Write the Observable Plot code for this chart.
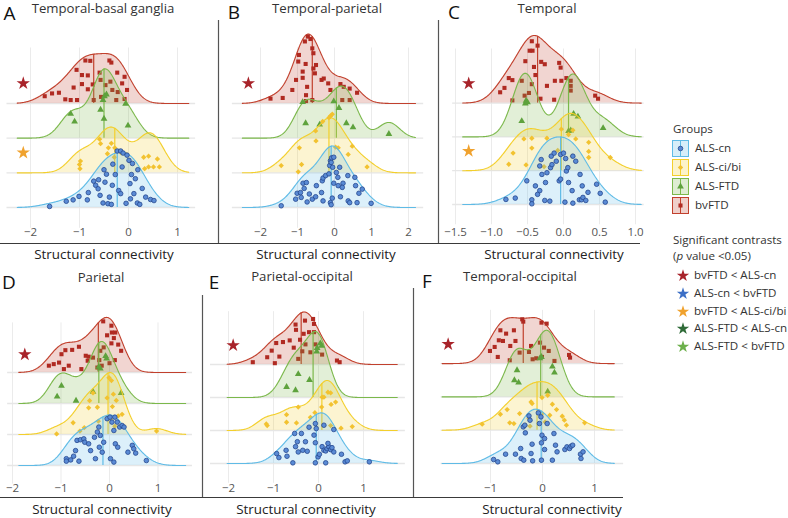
<!DOCTYPE html>
<html><head><meta charset="utf-8">
<script src="https://cdn.jsdelivr.net/npm/d3@7"></script>
<script src="https://cdn.jsdelivr.net/npm/@observablehq/plot@0.6"></script>
<style>
body{margin:0;background:#fff;}
#fig{position:relative;width:788px;height:518px;overflow:hidden;font-family:"Open Sans",sans-serif;color:#222;background:#fff;}
.t{position:absolute;transform:translate(-50%,-50%);white-space:nowrap;line-height:1;}
.l{position:absolute;transform:translateY(-50%);white-space:nowrap;line-height:1;}
</style></head><body><div id="fig"></div>
<script>
// ---------- DATA ----------
const groups = ["ALS-cn", "ALS-ci/bi", "ALS-FTD", "bvFTD"];
const panelIds = ["A", "B", "C", "D", "E", "F"];
const panelTitles = ["Temporal-basal ganglia", "Temporal-parietal", "Temporal", "Parietal", "Parietal-occipital", "Temporal-occipital"];
const xLabel = "Structural connectivity";
const ticksA = [-2, -1, 0, 1];
const ticksB = [-2, -1, 0, 1, 2];
const ticksC = [-1.5, -1.0, -0.5, 0.0, 0.5, 1.0];
const ticksD = [-2, -1, 0, 1];
const ticksE = [-2, -1, 0, 1];
const ticksF = [-1, 0, 1];
// density evaluation range per panel (x units)
const rangeA = [-2.27, 1.23], rangeB = [-2.49, 2.19], rangeC = [-1.40, 1.08];
const rangeD = [-1.87, 1.57], rangeE = [-2.03, 1.75], rangeF = [-1.93, 1.38];
// point data: [value, jitter height above baseline]
const A_cn = [[-1.61,0.03],[-1.27,0.18],[-1.13,0.22],[-1.01,0.32],[-0.84,0.22],[-0.82,0.43],[-0.71,0.76],[-0.67,0.64],[-0.61,0.80],[-0.62,0.54],[-0.50,1.09],[-0.45,0.96],[-0.48,0.73],[-0.52,0.13],[-0.42,0.11],[-0.35,0.09],[-0.39,0.30],[-0.33,0.64],[-0.32,1.25],[-0.23,1.63],[-0.16,1.63],[-0.11,1.57],[-0.20,0.49],[-0.16,0.40],[-0.13,1.17],[-0.03,1.51],[0.01,1.36],[0.03,0.69],[0.08,1.27],[0.04,0.25],[0.14,0.83],[0.11,0.40],[0.19,1.09],[0.18,0.13],[0.23,0.09],[0.35,0.30],[0.45,0.23],[0.52,0.20],[-0.27,0.95],[0.06,0.95],[0.28,0.55],[-0.05,0.12],[-0.58,0.35]];
const A_ci = [[-0.98,0.34],[-1.00,0.24],[-0.99,0.12],[-0.59,0.97],[-0.57,0.84],[-0.43,0.55],[-0.41,0.72],[-0.29,0.45],[-0.28,0.72],[-0.15,0.58],[-0.04,0.53],[0.31,0.45],[0.33,0.12],[0.41,0.48],[0.41,0.17],[0.51,0.17],[0.59,0.40],[0.63,0.17],[-0.35,0.85]];
const A_ftd = [[-1.18,0.70],[-1.10,0.48],[-0.57,0.82],[-0.52,1.10],[-0.50,0.56],[-0.49,1.21],[-0.45,1.26],[-0.06,0.99],[-0.01,0.36]];
const A_bv = [[-1.71,0.21],[-1.56,0.29],[-1.42,0.31],[-1.29,0.12],[-1.18,0.10],[-1.06,0.97],[-1.05,0.10],[-0.95,0.82],[-0.95,0.56],[-0.88,1.24],[-0.83,0.81],[-0.83,0.41],[-0.78,1.23],[-0.73,0.55],[-0.71,0.10],[-0.59,0.89],[-0.57,0.68],[-0.56,0.19],[-0.47,0.53],[-0.39,1.24],[-0.35,1.18],[-0.37,0.63],[-0.33,0.39],[-0.23,0.89],[-0.22,0.33],[-0.13,0.58],[-0.08,0.77],[-0.08,0.13],[-0.03,0.39],[-0.25,0.10],[-1.12,0.46]];
const B_cn = [[-1.44,0.05],[-1.05,0.24],[-1.01,0.41],[-0.92,0.43],[-0.85,0.70],[-0.76,0.72],[-0.90,0.29],[-0.74,0.16],[-0.68,0.39],[-0.60,0.24],[-0.51,0.31],[-0.49,0.63],[-0.35,0.43],[-0.31,0.19],[-0.33,0.77],[-0.31,0.85],[-0.24,0.92],[-0.15,0.97],[-0.13,1.21],[-0.11,1.35],[-0.08,1.43],[-0.02,1.45],[-0.09,1.30],[-0.05,1.16],[-0.06,0.27],[-0.11,0.14],[-0.09,0.08],[-0.02,0.70],[0.05,1.01],[0.09,0.87],[0.14,1.16],[0.10,0.63],[0.16,0.31],[0.23,0.70],[0.21,0.58],[0.36,0.92],[0.37,0.19],[0.41,0.14],[0.55,0.87],[0.57,0.63],[0.66,0.41],[0.75,0.53],[0.61,0.14],[0.99,0.12],[-0.82,0.55]];
const B_ci = [[-0.11,1.64],[-0.15,1.59],[-0.06,1.69],[-0.32,1.48],[-0.51,1.21],[-0.50,0.92],[-0.95,0.72],[-1.44,0.21],[-0.89,0.24],[-0.98,0.03],[0.03,0.74],[0.10,0.72],[0.48,0.77],[0.37,0.53],[0.88,0.17]];
const B_ftd = [[-0.86,1.04],[-0.78,0.43],[-0.40,0.39],[-0.02,1.06],[0.12,0.87],[0.32,0.43],[0.50,0.31],[1.47,0.12]];
const B_bv = [[-1.73,0.14],[-1.40,0.16],[-1.14,0.39],[-1.04,0.68],[-0.96,1.40],[-0.98,1.21],[-0.86,0.92],[-0.86,0.74],[-0.80,1.79],[-0.78,1.14],[-0.72,1.93],[-0.74,0.48],[-0.77,0.24],[-0.77,0.07],[-0.65,1.86],[-0.60,1.59],[-0.57,1.45],[-0.57,1.01],[-0.53,0.87],[-0.50,1.11],[-0.60,0.10],[-0.35,0.68],[-0.29,0.72],[-0.17,0.58],[-0.11,0.39],[0.16,0.56],[0.25,0.48],[0.41,0.43],[0.61,0.31],[0.21,0.10],[0.41,0.10]];
const C_cn = [[-0.80,0.15],[-0.67,0.19],[-0.51,0.70],[-0.44,0.14],[-0.44,0.02],[-0.39,0.55],[-0.33,0.41],[-0.33,1.14],[-0.31,1.33],[-0.30,0.89],[-0.26,0.12],[-0.19,0.10],[-0.23,0.94],[-0.18,1.09],[-0.16,1.18],[-0.17,1.43],[-0.13,1.52],[-0.10,1.28],[-0.06,0.70],[-0.04,0.75],[-0.04,1.48],[0.00,1.52],[0.03,1.36],[0.04,0.99],[0.06,1.09],[0.07,0.65],[0.02,0.07],[0.13,0.04],[0.12,0.41],[0.13,1.43],[0.17,1.28],[0.22,0.14],[0.25,0.14],[0.27,0.21],[0.31,0.12],[0.26,0.55],[0.23,0.89],[0.34,0.36],[0.46,0.60],[0.51,0.33],[0.58,0.07],[-0.25,0.65],[-0.36,0.30]];
const C_ci = [[-0.55,0.94],[-0.44,0.96],[-0.44,0.67],[-0.23,0.96],[-0.70,0.52],[-0.76,0.19],[-0.52,0.17],[-0.27,0.12],[-0.03,1.23],[0.13,1.20],[0.07,1.07],[0.17,0.94],[0.12,0.43],[0.06,0.10],[0.35,0.84],[0.35,0.57],[0.35,0.39],[0.65,0.39],[-0.08,0.60]];
const C_ftd = [[-0.52,1.07],[-0.53,0.99],[-0.50,1.02],[-0.58,0.47],[0.07,0.17],[0.10,0.19],[0.14,0.68],[0.20,0.60],[0.55,0.26]];
const C_bv = [[-0.44,1.83],[-0.47,1.55],[-0.43,1.55],[-0.53,1.24],[-0.41,1.07],[-0.31,1.22],[-0.26,1.15],[-0.06,1.19],[-0.04,1.05],[-0.71,0.68],[-0.76,0.74],[-0.58,0.66],[-0.39,0.83],[-0.44,0.56],[-0.23,0.51],[-0.12,0.66],[-0.03,0.66],[0.04,0.74],[0.10,0.66],[0.10,0.51],[-0.82,0.45],[-0.88,0.32],[-0.71,0.08],[-0.54,0.22],[-0.32,0.13],[-0.13,0.10],[0.10,0.37],[0.44,0.22],[0.48,0.13],[-0.36,1.70],[-0.48,0.30]];
const D_cn = [[-0.89,0.22],[-0.89,0.14],[-0.80,0.18],[-0.70,0.48],[-0.63,0.14],[-0.67,0.81],[-0.60,0.83],[-0.53,0.86],[-0.51,0.75],[-0.43,0.70],[-0.39,0.48],[-0.29,0.22],[-0.31,0.91],[-0.25,1.08],[-0.22,1.24],[-0.19,0.97],[-0.21,0.59],[-0.15,0.43],[-0.05,1.51],[0.01,1.56],[0.05,1.40],[0.11,1.56],[0.16,1.40],[0.09,1.13],[0.21,1.24],[0.26,1.29],[0.30,1.24],[0.12,0.70],[0.17,0.59],[0.02,0.22],[0.09,0.11],[0.47,0.65],[0.50,0.54],[0.54,0.40],[0.38,0.43],[0.76,0.16],[-0.12,0.75],[-0.74,0.30]];
const D_ci = [[-1.09,0.02],[-0.75,0.38],[-0.61,0.11],[-0.52,0.22],[-0.43,0.86],[-0.41,1.09],[-0.34,1.34],[-0.25,0.88],[-0.23,0.43],[-0.05,1.18],[-0.01,1.83],[0.04,1.74],[0.14,1.10],[0.11,0.27],[0.26,0.65],[0.97,0.11],[0.02,0.50],[0.08,1.30],[0.06,0.90],[0.18,0.60]];
const D_ftd = [[-0.99,0.57],[-1.08,0.22],[-0.69,0.09],[-0.34,0.38],[-0.08,1.53],[-0.06,1.45],[-0.19,1.13],[-0.22,1.18],[0.24,0.34]];
const D_bv = [[-0.13,1.65],[0.04,1.51],[0.05,1.29],[0.12,1.29],[0.09,1.11],[0.04,0.94],[0.24,0.70],[0.11,0.40],[-0.19,0.70],[-0.21,0.40],[-0.34,0.48],[-0.49,0.54],[-0.43,0.51],[-0.45,0.38],[-0.63,0.83],[-0.77,0.73],[-0.91,0.72],[-0.99,0.59],[-1.04,0.32],[-1.15,0.27],[-1.25,0.22],[-0.94,0.11],[-0.84,0.22],[-0.58,0.11],[-0.25,0.16],[-0.16,0.22],[-0.12,0.81],[0.18,0.90],[-0.05,1.20],[0.00,0.30]];
const E_cn = [[-0.93,0.30],[-0.88,0.18],[-0.72,0.40],[-0.70,0.22],[-0.57,0.02],[-0.53,0.91],[-0.47,0.66],[-0.51,0.51],[-0.45,0.35],[-0.35,0.40],[-0.25,0.37],[-0.29,0.66],[-0.38,0.91],[-0.21,1.10],[-0.07,1.21],[-0.05,1.06],[-0.10,0.86],[-0.07,0.63],[-0.01,0.20],[0.02,0.28],[0.08,0.51],[0.12,0.40],[0.16,0.38],[0.19,0.45],[0.23,0.51],[0.27,0.42],[0.30,0.48],[0.34,0.35],[0.21,0.61],[0.16,0.02],[0.51,0.28],[0.34,1.03],[0.12,1.16],[0.59,0.05],[0.64,0.08],[1.13,0.05],[-0.07,0.02]];
const E_ci = [[-1.16,0.20],[-1.14,0.15],[-0.71,0.25],[-0.71,0.48],[-0.49,0.23],[-0.45,0.71],[-0.18,0.40],[-0.08,0.54],[0.07,0.71],[0.08,1.01],[0.12,1.01],[0.21,1.16],[0.27,1.14],[0.28,0.79],[0.38,0.86],[0.27,0.15],[0.50,0.07],[0.75,0.12]];
const E_ftd = [[0.04,1.64],[0.07,1.57],[-0.04,1.39],[-0.03,1.50],[-0.45,0.71],[-0.20,0.53],[-0.71,0.32],[-0.51,0.22]];
const E_bv = [[-0.51,1.21],[-0.50,1.05],[-0.30,1.33],[-0.12,1.38],[-0.10,1.23],[-0.10,0.98],[-0.21,0.98],[-0.33,0.93],[-0.41,0.75],[-0.29,0.61],[-0.07,0.61],[-0.18,0.37],[-0.55,0.51],[-0.64,0.73],[-0.79,0.68],[-0.94,0.65],[-1.04,0.42],[-0.87,0.24],[-1.14,0.22],[-0.97,0.04],[-1.46,0.07],[-0.36,0.40],[-0.45,0.17],[0.08,0.30],[0.41,0.12],[0.47,0.07]];
const F_cn = [[-0.94,0.12],[-0.86,0.05],[-0.71,0.28],[-0.52,0.28],[-0.42,0.45],[-0.41,0.15],[-0.36,0.10],[-0.37,1.10],[-0.34,1.15],[-0.26,1.43],[-0.24,1.30],[-0.33,0.92],[-0.20,0.58],[-0.19,0.08],[-0.08,1.52],[-0.03,1.40],[-0.06,1.20],[-0.01,0.85],[-0.02,0.62],[0.04,0.75],[0.04,0.42],[-0.02,0.10],[0.19,0.10],[0.22,0.90],[0.25,0.55],[0.28,0.35],[0.43,0.42],[0.47,0.50],[0.52,0.45],[0.55,0.52],[0.58,0.55],[0.73,0.28],[0.74,0.15],[0.78,0.35],[0.09,1.20],[-0.22,0.30]];
const F_ci = [[-1.16,0.18],[-0.81,0.48],[-0.68,0.62],[-0.63,0.22],[-0.55,0.20],[-0.44,0.50],[-0.26,0.35],[-0.33,0.15],[-0.24,0.12],[-0.22,0.85],[-0.20,0.80],[-0.01,0.98],[0.19,0.78],[0.38,0.42],[0.42,0.30],[0.46,0.15],[0.81,0.22],[-0.01,0.50],[0.10,1.05],[0.14,0.45],[0.27,0.62],[0.05,0.25]];
const F_ftd = [[-0.49,0.80],[-0.54,0.50],[-0.46,0.43],[-0.05,1.16],[-0.02,1.20],[0.19,0.91],[0.23,0.73],[0.10,0.16]];
const F_bv = [[-0.39,1.33],[-0.37,1.26],[-0.81,1.00],[-0.84,0.70],[-0.76,0.68],[-0.62,0.53],[-0.52,0.68],[-1.01,0.38],[-0.86,0.20],[-0.63,0.10],[-0.44,0.33],[-0.26,0.35],[-0.22,0.53],[-0.19,0.13],[-0.12,0.16],[-0.02,1.23],[0.08,1.20],[-0.05,0.63],[0.03,0.48],[0.12,0.38],[-0.01,0.20],[0.23,0.08],[0.51,0.26],[0.53,0.18],[-0.70,0.90],[-0.55,1.00],[-0.92,0.50]];
// significant contrasts shown per panel: [group row, contrast]
const contrasts = ["bvFTD < ALS-cn", "ALS-cn < bvFTD", "bvFTD < ALS-ci/bi", "ALS-FTD < ALS-cn", "ALS-FTD < bvFTD"];
const starsA = [["bvFTD", "bvFTD < ALS-cn"], ["ALS-ci/bi", "bvFTD < ALS-ci/bi"]];
const starsB = [["bvFTD", "bvFTD < ALS-cn"]];
const starsC = [["bvFTD", "bvFTD < ALS-cn"], ["ALS-ci/bi", "bvFTD < ALS-ci/bi"]];
const starsD = [["bvFTD", "bvFTD < ALS-cn"]];
const starsE = [["bvFTD", "bvFTD < ALS-cn"]];
const starsF = [["bvFTD", "bvFTD < ALS-cn"]];

// ---------- STYLE ----------
const lineColor = {"ALS-cn": "#5fbbe6", "ALS-ci/bi": "#f3cf2c", "ALS-FTD": "#7bb84b", "bvFTD": "#c1402d"};
const ptFill = {"ALS-cn": "#5a8bd5", "ALS-ci/bi": "#f2c230", "ALS-FTD": "#5ea23d", "bvFTD": "#b02a22"};
const ptStroke = {"ALS-cn": "#26478f", "ALS-ci/bi": "none", "ALS-FTD": "none", "bvFTD": "none"};
const ptSymbol = {"ALS-cn": "circle", "ALS-ci/bi": "diamond2", "ALS-FTD": "triangle", "bvFTD": "square"};
const ptR = {"ALS-cn": 2.3, "ALS-ci/bi": 2.4, "ALS-FTD": 2.5, "bvFTD": 2.3};
const starColor = {"bvFTD < ALS-cn": "#a8232a", "ALS-cn < bvFTD": "#3c6fc6", "bvFTD < ALS-ci/bi": "#f0a22e", "ALS-FTD < ALS-cn": "#2f6b38", "ALS-FTD < bvFTD": "#6cb04b"};

// panel geometry (page pixels)
const panels = [
  {id:"A", data:[A_cn,A_ci,A_ftd,A_bv], ticks:ticksA, fmt:d3.format("d"), range:rangeA, grid:[-2.48,1.37], stars:starsA,
   left:0, right:218, top:20, bottom:243, zero:128, kx:49, base:207, u:34.67, tickDy:8, sepR:true},
  {id:"B", data:[B_cn,B_ci,B_ftd,B_bv], ticks:ticksB, fmt:d3.format("d"), range:rangeB, grid:[-2.76,2.41], stars:starsB,
   left:218, right:438, top:20, bottom:243, zero:334, kx:37, base:207, u:34.67, tickDy:8},
  {id:"C", data:[C_cn,C_ci,C_ftd,C_bv], ticks:ticksC, fmt:d3.format(".1f"), range:rangeC, grid:[-1.54,1.12], stars:starsC,
   left:438, right:640, top:20, bottom:243, zero:563, kx:72, base:204, u:33.8, tickDy:8, sepL:true},
  {id:"D", data:[D_cn,D_ci,D_ftd,D_bv], ticks:ticksD, fmt:d3.format("d"), range:rangeD, grid:[-2.1,1.71], stars:starsD,
   left:0, right:202, top:295, bottom:497, zero:109, kx:48.5, base:465, u:31, tickDy:6, sepR:true},
  {id:"E", data:[E_cn,E_ci,E_ftd,E_bv], ticks:ticksE, fmt:d3.format("d"), range:rangeE, grid:[-2.4,1.93], stars:starsE,
   left:202, right:413, top:288, bottom:497, zero:318, kx:45, base:463, u:33, tickDy:6},
  {id:"F", data:[F_cn,F_ci,F_ftd,F_bv], ticks:ticksF, fmt:d3.format("d"), range:rangeF, grid:[-1.95,1.56], stars:starsF,
   left:413, right:623, top:288, bottom:497, zero:542, kx:52, base:463, u:33.3, tickDy:6, sepL:true}
];
const PEAK = 2.0;    // tallest ridge height in row spacings
const BW_ADJ = 1.35; // bandwidth adjustment on the joint rule-of-thumb bandwidth

const fig = document.getElementById("fig");
function addText(txt, x, y, css, cls) {
  const d = document.createElement("div");
  d.className = cls || "t";
  d.style.left = x + "px"; d.style.top = y + "px";
  d.style.cssText += css || "";
  d.innerHTML = txt;
  fig.appendChild(d);
  return d;
}

function nrd0(v) {
  const s = d3.deviation(v);
  const iqr = d3.quantile(v, 0.75) - d3.quantile(v, 0.25);
  const lo = Math.min(s, iqr / 1.34) || s;
  return 0.9 * lo * Math.pow(v.length, -0.2);
}

function drawPanel(p) {
  const W = p.right - p.left, H = p.bottom - p.top;
  const zx = p.zero - p.left, by = p.base - p.top;
  const xd = [-zx / p.kx, (W - zx) / p.kx];
  const yd = [(by - H) / p.u, by / p.u];
  const all = p.data.flat().map(d => d[0]);
  const bw = nrd0(all) * BW_ADJ;
  const xs = d3.range(241).map(i => p.range[0] + (p.range[1] - p.range[0]) * i / 240);
  const dens = (vals, x) => d3.mean(vals, v => Math.exp(-0.5 * ((x - v) / bw) ** 2)) / (bw * Math.sqrt(2 * Math.PI));
  const curves = p.data.map(arr => { const v = arr.map(d => d[0]); return xs.map(x => ({x, d: dens(v, x)})); });
  const maxD = d3.max(curves, c => d3.max(c, d => d.d));
  const hs = PEAK / maxD;
  const marks = [
    Plot.ruleX(p.ticks, {x: d => d, y1: -0.6, y2: 4.6, stroke: "#ebebeb", strokeWidth: 1}),
    Plot.ruleY([0, 1, 2, 3], {y: d => d, x1: p.grid[0], x2: p.grid[1], stroke: "#e6e6e6", strokeWidth: 1.3})
  ];
  for (let g = 3; g >= 0; g--) {
    const name = groups[g];
    const c = curves[g].map(d => ({x: d.x, y: g + d.d * hs}));
    const vals = p.data[g].map(d => d[0]);
    const med = d3.median(vals);
    const medTop = g + dens(vals, med) * hs;
    marks.push(
      Plot.areaY(c, {x: "x", y1: g, y2: "y", fill: lineColor[name], fillOpacity: 0.22}),
      Plot.line(c, {x: "x", y: "y", stroke: lineColor[name], strokeWidth: 1.1}),
      Plot.ruleX([med], {x: d => d, y1: g, y2: medTop, stroke: lineColor[name], strokeWidth: 1.2}),
      Plot.dot(p.data[g], {x: d => d[0], y: d => g + d[1], symbol: ptSymbol[name], r: ptR[name], fill: ptFill[name], stroke: ptStroke[name], strokeWidth: 0.8})
    );
  }
  marks.push(
    Plot.dot(p.stars, {x: p.range[0], y: d => groups.indexOf(d[0]) + 0.58, dx: 6, symbol: "star", r: 4.2, fill: d => starColor[d[1]], stroke: "none"}),
    Plot.text(p.ticks, {x: d => d, text: d => p.fmt(d), frameAnchor: "bottom", dy: -p.tickDy, fontSize: 11.5, fill: "#555", fontFamily: "Open Sans"}),
    Plot.ruleY([yd[0]], {stroke: "#3a3a3a", strokeWidth: 1.2})
  );
  if (p.sepR) marks.push(Plot.ruleX([xd[1]], {stroke: "#555", strokeWidth: 1.2}));
  if (p.sepL) marks.push(Plot.ruleX([xd[0]], {stroke: "#555", strokeWidth: 1.2}));
  const svg = Plot.plot({
    width: W, height: H, margin: 0,
    x: {domain: xd, axis: null}, y: {domain: yd, axis: null},
    style: {overflow: "visible", background: "transparent"},
    marks
  });
  svg.style.position = "absolute";
  svg.style.left = p.left + "px";
  svg.style.top = p.top + "px";
  svg.style.maxWidth = "none";
  fig.appendChild(svg);
}
panels.forEach(drawPanel);

// titles, letters, axis labels
const letterPos = [[9.5,13],[234,12],[454,12],[9,282],[214,282],[427,281]];
const titlePos = [[103,9],[327,9],[547,9],[101,278],[302,277],[520,277]];
const xlabPos = [[104,255],[326,255],[554,255],[102,510],[306,510],[552,510]];
panelIds.forEach((id, i) => {
  addText(id, letterPos[i][0], letterPos[i][1], "font-size:19px;color:#111;");
  addText(panelTitles[i], titlePos[i][0], titlePos[i][1], "font-size:13.2px;color:#333;");
  addText(xLabel, xlabPos[i][0], xlabPos[i][1], "font-size:13.4px;color:#222;");
});

// legend
const LF = "font-size:11.6px;color:#333;";
addText("Groups", 673, 129, LF, "l");
const legY = [148, 167, 186, 205];
groups.forEach((g, i) => {
  const sym = {circle: d3.symbolCircle, diamond2: d3.symbolDiamond2, triangle: d3.symbolTriangle, square: d3.symbolSquare}[ptSymbol[g]];
  const path = d3.symbol(sym, Math.PI * ptR[g] * ptR[g])();
  const s = `<svg width="17" height="17" style="position:absolute;left:672px;top:${legY[i]-8.5}px;overflow:visible">
    <rect x="0.5" y="0.5" width="16" height="16" fill="${lineColor[g]}" fill-opacity="0.25" stroke="${lineColor[g]}" stroke-width="1"/>
    <line x1="8.5" x2="8.5" y1="0.5" y2="16.5" stroke="${lineColor[g]}" stroke-width="1"/>
    <path d="${path}" transform="translate(8.5,8.5)" fill="${ptFill[g]}" stroke="${ptStroke[g]}" stroke-width="0.8"/></svg>`;
  fig.insertAdjacentHTML("beforeend", s);
  addText(g, 695, legY[i], LF, "l");
});
addText("Significant contrasts", 673, 240, LF, "l");
addText("(<i>p</i> value &lt;0.05)", 673, 256, LF, "l");
const starY = [275, 293, 311, 328, 346];
const starPath = d3.symbol(d3.symbolStar, 48)();
contrasts.forEach((c, i) => {
  fig.insertAdjacentHTML("beforeend", `<svg width="16" height="16" style="position:absolute;left:675px;top:${starY[i]-8}px;overflow:visible"><path d="${starPath}" transform="translate(8,8.8)" fill="${starColor[c]}"/></svg>`);
  addText(c, 694, starY[i], LF, "l");
});
</script></body></html>
